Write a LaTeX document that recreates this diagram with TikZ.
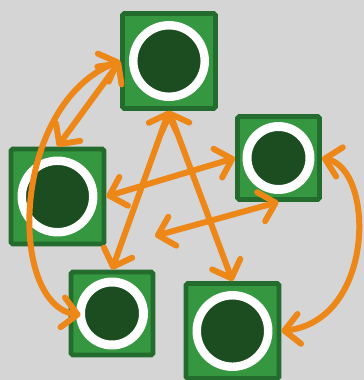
\documentclass[tikz,border=0pt]{standalone}
\usetikzlibrary{arrows.meta}

\definecolor{bggray}{HTML}{D5D5D5}
\definecolor{tileedge}{HTML}{236C2D}
\definecolor{tilefill}{HTML}{35973F}
\definecolor{holefill}{HTML}{1B4D21}
\definecolor{linkorange}{HTML}{EC8718}

\begin{document}
\begin{tikzpicture}[x=0.02cm,y=-0.02cm,
  tile/.style={rectangle,draw=tileedge,fill=tilefill,line width=2.8pt,rounded corners=1pt,
    inner sep=0pt,minimum width=1.86cm,minimum height=1.9cm},
  small tile/.style={tile,minimum width=1.64cm,minimum height=1.66cm},
  hole/.style={circle,draw=white,fill=holefill,line width=4.8pt,inner sep=0pt,minimum size=1.43cm},
  small hole/.style={hole,line width=5.1pt,minimum size=1.26cm},
  link/.style={draw=linkorange,line width=3.4pt,line cap=round,
    {Straight Barb[length=0.3cm,width=0.6cm,round]}-{Straight Barb[length=0.3cm,width=0.6cm,round]}}]
  \useasboundingbox (0,0) rectangle (364,380);
  \clip (0,0) rectangle (364,380);
  \fill[bggray] (0,0) rectangle (364,380);

  \node[tile] (a) at (169,61) {};
  \node[small tile] (b) at (278.5,158) {};
  \node[tile] (c) at (57.5,196.5) {};
  \node[small tile] (d) at (112,313.5) {};
  \node[tile] (e) at (232.5,331) {};
  \node[hole] (ah) at (a) {};
  \node[small hole] (bh) at (b) {};
  \node[hole] (ch) at (c) {};
  \node[small hole] (dh) at (d) {};
  \node[hole] (eh) at (e) {};
  \coordinate (m) at (155,236);

  \draw[link] (a.west) -- (c.north);
  \draw[link] (a.west) .. controls (11,104) and (7,304) .. ([xshift=0.24cm,yshift=-0.03cm]d.west);
  \draw[link] (a.south) -- (d.north);
  \draw[link] (a.south) -- (e.north);
  \draw[link] (c.east) -- (b.west);
  \draw[link] (b.south) -- (m);
  \draw[link] (b.east) .. controls (375,170) and (375,320) .. (e.east);
\end{tikzpicture}
\end{document}
